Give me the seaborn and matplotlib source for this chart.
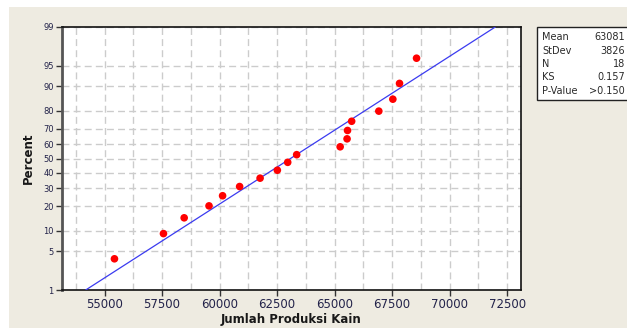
from statistics import NormalDist

import matplotlib
matplotlib.use("Agg")
import matplotlib.pyplot as plt
import numpy as np
import seaborn as sns
from matplotlib.patches import Rectangle
from matplotlib.ticker import FixedLocator, MultipleLocator

# data
produksi = [55430, 57560, 58460, 59540, 60130, 60870, 61760, 62510, 62960,
            63350, 65240, 65540, 65560, 65740, 66920, 67530, 67820, 68560]
percent = [3.8, 9.2, 14.7, 20.1, 25.5, 31.0, 36.4, 41.8, 47.3,
           52.7, 58.2, 63.6, 69.0, 74.5, 79.9, 85.3, 90.8, 96.2]
mean_val = 63081
stdev_val = 3826
y_ticks = [1, 5, 10, 20, 30, 40, 50, 60, 70, 80, 90, 95, 99]
x_ticks = [55000, 57500, 60000, 62500, 65000, 67500, 70000, 72500]
stat_names = ["Mean", "StDev", "N", "KS", "P-Value"]
stat_values = ["63081", "3826", "18", "0.157", ">0.150"]

BEIGE = "#eeebe1"
TICK_COLOR = "#23234a"

sns.set_style("white")
plt.rcParams["font.family"] = ["DejaVu Sans"]

nd = NormalDist()


def prob_fwd(p):
    p = np.clip(np.asarray(p, dtype=float), 1e-4, 100 - 1e-4)
    return np.array([nd.inv_cdf(v / 100.0) for v in p.ravel()]).reshape(p.shape)


def prob_inv(z):
    z = np.asarray(z, dtype=float)
    return np.array([nd.cdf(v) * 100.0 for v in z.ravel()]).reshape(z.shape)


fig = plt.figure(figsize=(6.27, 3.28), dpi=100, facecolor=BEIGE)
ax = fig.add_axes([62 / 627, 1 - 290 / 328, 459 / 627, 263 / 328])
ax.set_facecolor("white")

# white margins at top and left of the screenshot
fig.patches.append(Rectangle((0, 1 - 6.5 / 328), 1, 6.5 / 328, transform=fig.transFigure,
                             facecolor="white", edgecolor="none", zorder=5))
fig.patches.append(Rectangle((0, 0), 9 / 627, 1, transform=fig.transFigure,
                             facecolor="white", edgecolor="none", zorder=5))
# title mostly cut off at the top edge, as in the screenshot
fig.text(322 / 627, 1 - 6 / 328, "Normal", ha="center", va="baseline",
         fontsize=8, color="#555555", zorder=1)

ax.set_yscale("function", functions=(prob_fwd, prob_inv))

# fitted normal line
line_x = [mean_val + stdev_val * nd.inv_cdf(0.01), mean_val + stdev_val * nd.inv_cdf(0.99)]
line_y = [1, 99]
sns.lineplot(x=line_x, y=line_y, ax=ax, color="#3b3bf0", linewidth=0.9, zorder=3)

sns.scatterplot(x=produksi, y=percent, ax=ax, color="#ff0000", s=30,
                edgecolor="none", zorder=4)

ax.set_xlim(53150, 73100)
ax.set_ylim(1, 99)

ax.yaxis.set_major_locator(FixedLocator(y_ticks))
ax.yaxis.set_minor_locator(FixedLocator([]))
ax.set_yticklabels([str(v) for v in y_ticks])
ax.xaxis.set_major_locator(FixedLocator(x_ticks))
ax.xaxis.set_minor_locator(MultipleLocator(1250))
ax.set_xticklabels([str(v) for v in x_ticks])

ax.grid(True, axis="y", which="major", linestyle=(0, (5, 3)), color="#cccccc", linewidth=1)
ax.grid(True, axis="x", which="both", linestyle=(0, (5, 3)), color="#cccccc", linewidth=1)
ax.set_axisbelow(True)

ax.tick_params(axis="y", which="major", direction="out", length=4, width=1,
               color="#333333", labelsize=6, labelcolor=TICK_COLOR, pad=2, left=True)
ax.tick_params(axis="x", which="major", direction="out", length=4, width=1,
               color="#333333", labelsize=8.5, labelcolor=TICK_COLOR, pad=2, bottom=True)
ax.tick_params(axis="x", which="minor", length=0)

for side in ["top", "right", "bottom"]:
    ax.spines[side].set_color("#111111")
    ax.spines[side].set_linewidth(1.2)
ax.spines["left"].set_color("#555555")
ax.spines["left"].set_linewidth(2)

ax.set_ylabel("Percent", fontsize=8.5, fontweight="bold", color="#181818", labelpad=6)
ax.set_xlabel("Jumlah Produksi Kain", fontsize=8.5, fontweight="bold", color="#181818",
              labelpad=1)

# stats box on the right, running into the screenshot's right edge
fig.patches.append(Rectangle((537 / 627, 1 - 100 / 328), 110 / 627, 73 / 328,
                             transform=fig.transFigure, facecolor="white",
                             edgecolor="#222222", linewidth=1, zorder=2))
row_y = [37.3, 50.7, 64.3, 77.3, 90.7]
for name, val, yy in zip(stat_names, stat_values, row_y):
    fig.text(542 / 627, 1 - yy / 328, name, ha="left", va="center", fontsize=7,
             color="#2a2a2a", zorder=3)
    fig.text(625 / 627, 1 - yy / 328, val, ha="right", va="center", fontsize=7,
             color="#2a2a2a", zorder=3)

fig.savefig("out.png", dpi=100, facecolor=BEIGE)
plt.close(fig)
